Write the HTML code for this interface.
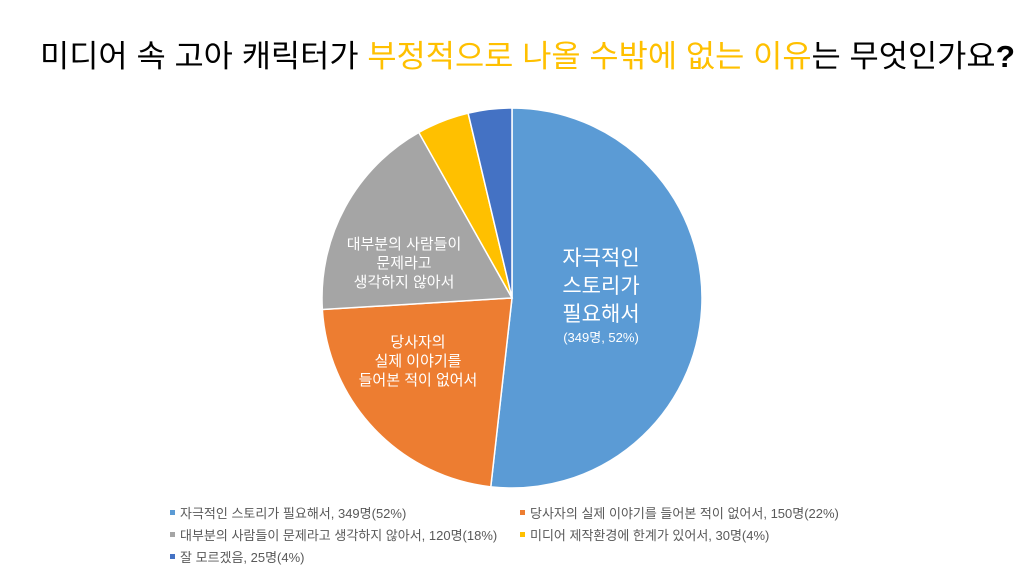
<!DOCTYPE html>
<html><head><meta charset="utf-8"><style>
body{margin:0;width:1024px;height:576px;background:#fff;overflow:hidden;font-family:"Liberation Sans","Noto Sans CJK KR",sans-serif}
</style></head><body>
<svg width="1024" height="576" style="font-family:'Liberation Sans','Noto Sans CJK KR',sans-serif">
<text x="40" y="67" font-size="31" textLength="975" lengthAdjust="spacingAndGlyphs" fill="#000">미디어 속 고아 캐릭터가 <tspan fill="#FFC000">부정적으로 나올 수밖에 없는 이유</tspan>는 무엇인가요<tspan font-weight="bold">?</tspan></text>
<g id="slices"></g>
<g id="labels" fill="#fff" text-anchor="middle">
<g font-size="21"><text x="601" y="265">자극적인</text><text x="601" y="293">스토리가</text><text x="601" y="321">필요해서</text><text x="601" y="342" font-size="13">(349명, 52%)</text></g>
<g font-size="15"><text x="418" y="347">당사자의</text><text x="418" y="366">실제 이야기를</text><text x="418" y="385">들어본 적이 없어서</text></g>
<g font-size="15"><text x="404" y="249">대부분의 사람들이</text><text x="404" y="268">문제라고</text><text x="404" y="287">생각하지 않아서</text></g>
</g>
<g id="legend" font-size="13" fill="#595959"></g>
</svg>
<script>
const categories=["자극적인 스토리가 필요해서","당사자의 실제 이야기를 들어본 적이 없어서","대부분의 사람들이 문제라고 생각하지 않아서","미디어 제작환경에 한계가 있어서","잘 모르겠음"];
const counts=[349,150,120,30,25];
const percents=[52,22,18,4,4];
const colors=["#5B9BD5","#ED7D31","#A5A5A5","#FFC000","#4472C4"];
const cx=512,cy=298,r=190;
const total=counts.reduce((a,b)=>a+b,0);
const ns="http://www.w3.org/2000/svg";
const sg=document.getElementById("slices");
let a0=0;
function pt(a){return [cx+r*Math.sin(a),cy-r*Math.cos(a)];}
counts.forEach((v,i)=>{
 const a1=a0+v/total*2*Math.PI;
 const p0=pt(a0),p1=pt(a1);
 const p=document.createElementNS(ns,"path");
 p.setAttribute("d",`M${cx},${cy}L${p0[0]},${p0[1]}A${r},${r} 0 ${a1-a0>Math.PI?1:0} 1 ${p1[0]},${p1[1]}Z`);
 p.setAttribute("fill",colors[i]);p.setAttribute("stroke","#fff");p.setAttribute("stroke-width","1.5");
 
 
 sg.appendChild(p);a0=a1;
});
const lg=document.getElementById("legend");
const pos=[[170,518],[520,518],[170,540],[520,540],[170,562]];
categories.forEach((c,i)=>{
 const g=document.createElementNS(ns,"g");
 
 
 const s=document.createElementNS(ns,"rect");
 s.setAttribute("x",pos[i][0]);s.setAttribute("y",pos[i][1]-8);s.setAttribute("width",5);s.setAttribute("height",5);s.setAttribute("fill",colors[i]);
 const t=document.createElementNS(ns,"text");
 t.setAttribute("x",pos[i][0]+10);t.setAttribute("y",pos[i][1]);
 t.textContent=`${c}, ${counts[i]}명(${percents[i]}%)`;
 g.appendChild(s);g.appendChild(t);lg.appendChild(g);
});
</script>
</body></html>
